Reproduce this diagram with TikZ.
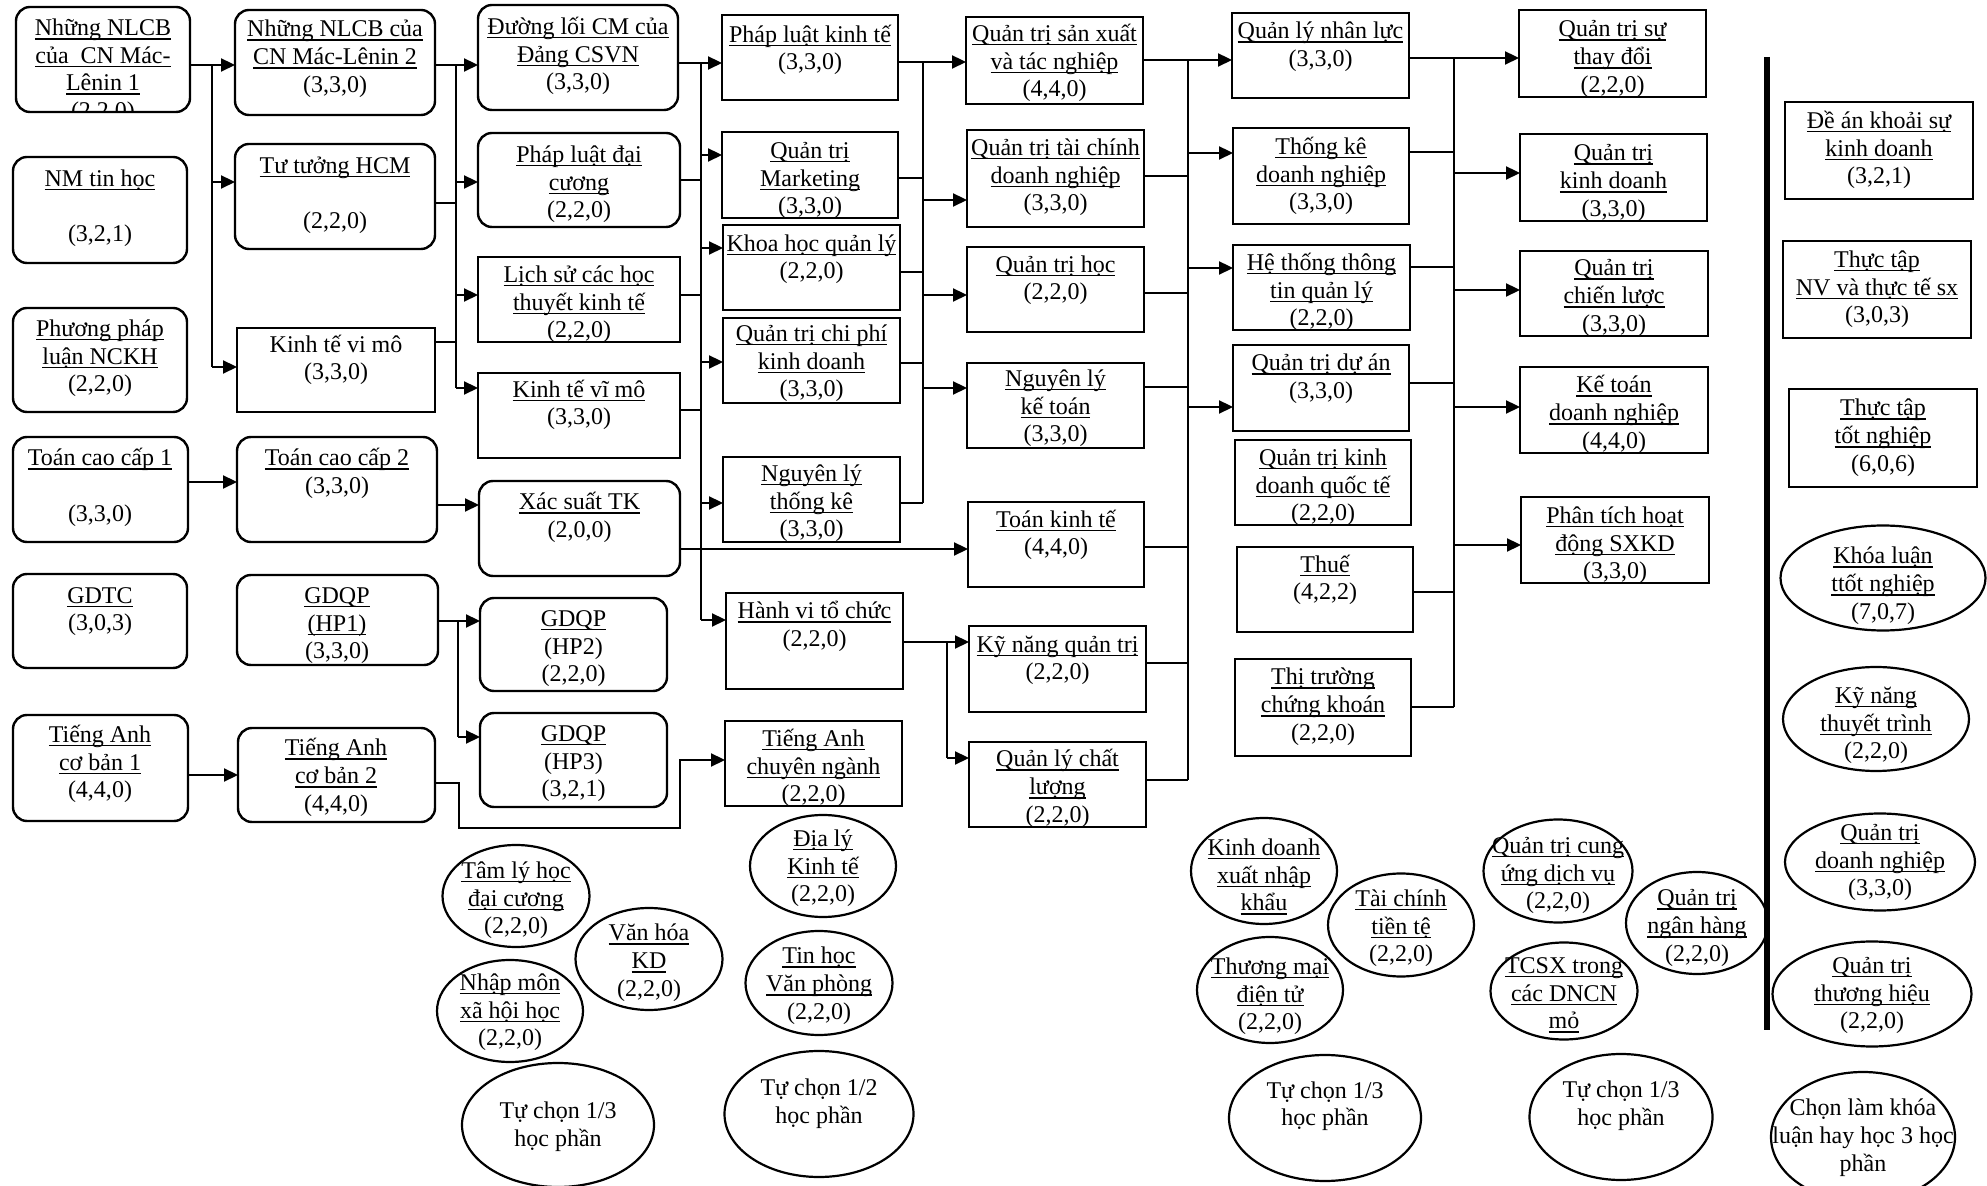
\documentclass[tikz,border=0pt]{standalone}
\usepackage{fontspec}
\setmainfont{Liberation Serif}
\usetikzlibrary{arrows.meta,fit,shapes.geometric}
\newcommand\fs{\fontsize{12pt}{13.8pt}\selectfont}
\newcommand\uu[1]{\strut\setbox0\hbox{#1}\rlap{\rule[-2pt]{\wd0}{0.75pt}}\box0}
\newcommand\pp[1]{\strut #1}
\tikzset{
  sq/.style={draw, line width=1.2pt, inner sep=0pt, outer sep=0pt},
  rd/.style={sq, rounded corners=7pt},
  el/.style={draw, ellipse, line width=1.1pt, inner sep=0pt, outer sep=0pt},
  tx/.style={align=center, inner sep=0pt, font=\fs, yshift=-1.5pt},
  ln/.style={line width=1.1pt},
  ar/.style={ln, -{Triangle[length=7pt,width=6.5pt]}},
}
\begin{document}
\begin{tikzpicture}[x=0.5pt,y=-0.5pt]
\useasboundingbox (0,0) rectangle (1987,1186);
\fill[white] (0,0) rectangle (1987,1186);

% ---------- column 1 ----------
\node[rd, fit={(16,7) (190,112)}] (n1) {};
\begin{scope}
\clip[rounded corners=7pt] (16,7) rectangle (190,112);
\node[tx] (n1t) at (103,68.5) {\uu{Những NLCB}\\\uu{của\ \ CN Mác-}\\\uu{Lênin 1}\\\pp{(2,2,0)}};
\end{scope}
\node[rd, fit={(13,157) (187,263)}] (nmth) {};
\node[tx] (nmtht) at (100,205.5) {\uu{NM tin học}\\\strut\\\pp{(3,2,1)}};
\node[rd, fit={(13,308) (187,412)}] (ppl) {};
\node[tx] (pplt) at (100,355.5) {\uu{Phương pháp}\\\uu{luận NCKH}\\\pp{(2,2,0)}};
\node[rd, fit={(13,437) (188,542)}] (tcc1) {};
\node[tx] (tcc1t) at (100,485) {\uu{Toán cao cấp 1}\\\strut\\\pp{(3,3,0)}};
\node[rd, fit={(13,574) (187,668)}] (gdtc) {};
\node[tx] (gdtct) at (100,608.5) {\uu{GDTC}\\\pp{(3,0,3)}};
\node[rd, fit={(13,715) (188,821)}] (tacb1) {};
\node[tx] (tacb1t) at (100,761.5) {\uu{Tiếng Anh}\\\uu{cơ bản 1}\\\pp{(4,4,0)}};

% ---------- column 2 ----------
\node[rd, fit={(235,10) (435,115)}] (n2) {};
\node[tx] (n2t) at (335,56) {\uu{Những NLCB của}\\\uu{CN Mác-Lênin 2}\\\pp{(3,3,0)}};
\node[rd, fit={(235,144) (435,249)}] (tthcm) {};
\node[tx] (tthcmt) at (335,192.5) {\uu{Tư tưởng HCM}\\\strut\\\pp{(2,2,0)}};
\node[sq, fit={(237,328) (435,412)}] (ktvimo) {};
\node[tx] (ktvimot) at (336,357.5) {\pp{Kinh tế vi mô}\\\pp{(3,3,0)}};
\node[rd, fit={(237,437) (437,542)}] (tcc2) {};
\node[tx] (tcc2t) at (337,471) {\uu{Toán cao cấp 2}\\\pp{(3,3,0)}};
\node[rd, fit={(237,575) (438,665)}] (hp1) {};
\node[tx] (hp1t) at (337,622.5) {\uu{GDQP}\\\uu{(HP1)}\\\pp{(3,3,0)}};
\node[rd, fit={(238,728) (435,822)}] (tacb2) {};
\node[tx] (tacb2t) at (336,775) {\uu{Tiếng Anh}\\\uu{cơ bản 2}\\\pp{(4,4,0)}};

% ---------- column 3 ----------
\node[rd, fit={(478,5) (678,110)}] (dl) {};
\node[tx] (dlt) at (578,53.5) {\uu{Đường lối CM của}\\\uu{Đảng CSVN}\\\pp{(3,3,0)}};
\node[rd, fit={(478,133) (680,227)}] (pldc) {};
\node[tx] (pldct) at (579,181.5) {\uu{Pháp luật đại}\\\uu{cương}\\\pp{(2,2,0)}};
\node[sq, fit={(478,257) (680,342)}] (ls) {};
\node[tx] (lst) at (579,301.5) {\uu{Lịch sử các học}\\\uu{thuyết kinh tế}\\\pp{(2,2,0)}};
\node[sq, fit={(478,373) (680,458)}] (ktvm) {};
\node[tx] (ktvmt) at (579,402.5) {\uu{Kinh tế vĩ mô}\\\pp{(3,3,0)}};
\node[rd, fit={(479,481) (680,576)}] (xstk) {};
\node[tx] (xstkt) at (579.5,515) {\uu{Xác suất TK}\\\pp{(2,0,0)}};
\node[rd, fit={(480,598) (667,691)}] (hp2) {};
\node[tx] (hp2t) at (573.5,645.5) {\uu{GDQP}\\\pp{(HP2)}\\\pp{(2,2,0)}};
\node[rd, fit={(480,713) (667,807)}] (hp3) {};
\node[tx] (hp3t) at (573.5,760.5) {\uu{GDQP}\\\pp{(HP3)}\\\pp{(3,2,1)}};

% ---------- column 4 ----------
\node[sq, fit={(722,15) (898,100)}] (plkt) {};
\node[tx] (plktt) at (810,47.5) {\uu{Pháp luật kinh tế}\\\pp{(3,3,0)}};
\node[sq, fit={(722,132) (898,218)}] (qtmk) {};
\node[tx] (qtmkt) at (810,177.5) {\uu{Quản trị}\\\uu{Marketing}\\\pp{(3,3,0)}};
\node[sq, fit={(723,225) (900,310)}] (khql) {};
\node[tx] (khqlt) at (811.5,256.5) {\uu{Khoa học quản lý}\\\pp{(2,2,0)}};
\node[sq, fit={(723,318) (900,403)}] (qtcp) {};
\node[tx] (qtcpt) at (811.5,360.5) {\uu{Quản trị chi phí}\\\uu{kinh doanh}\\\pp{(3,3,0)}};
\node[sq, fit={(723,457) (900,542)}] (nltk) {};
\node[tx] (nltkt) at (811.5,500.5) {\uu{Nguyên lý}\\\uu{thống kê}\\\pp{(3,3,0)}};
\node[sq, fit={(726,593) (903,689)}] (hvtc) {};
\node[tx] (hvtct) at (814.5,624) {\uu{Hành vi tổ chức}\\\pp{(2,2,0)}};
\node[sq, fit={(725,721) (902,806)}] (tacn) {};
\node[tx] (tacnt) at (813.5,765.5) {\uu{Tiếng Anh}\\\uu{chuyên ngành}\\\pp{(2,2,0)}};

% ---------- column 5 ----------
\node[sq, fit={(966,17) (1143,104)}] (qtsx) {};
\node[tx] (qtsxt) at (1054.5,60.5) {\uu{Quản trị sản xuất}\\\uu{và tác nghiệp}\\\pp{(4,4,0)}};
\node[sq, fit={(967,130) (1144,227)}] (qttc) {};
\node[tx] (qttct) at (1055.5,174.5) {\uu{Quản trị tài chính}\\\uu{doanh nghiệp}\\\pp{(3,3,0)}};
\node[sq, fit={(967,247) (1144,332)}] (qth) {};
\node[tx] (qtht) at (1055.5,277.5) {\uu{Quản trị học}\\\pp{(2,2,0)}};
\node[sq, fit={(967,363) (1144,448)}] (nlkt) {};
\node[tx] (nlktt) at (1055.5,405.5) {\uu{Nguyên lý}\\\uu{kế toán}\\\pp{(3,3,0)}};
\node[sq, fit={(968,502) (1144,587)}] (tkt) {};
\node[tx] (tktt) at (1056,532.5) {\uu{Toán kinh tế}\\\pp{(4,4,0)}};
\node[sq, fit={(969,626) (1146,712)}] (knqt) {};
\node[tx] (knqtt) at (1057.5,657.5) {\uu{Kỹ năng quản trị}\\\pp{(2,2,0)}};
\node[sq, fit={(969,742) (1146,827)}] (qlcl) {};
\node[tx] (qlclt) at (1057.5,786) {\uu{Quản lý chất}\\\uu{lượng}\\\pp{(2,2,0)}};

% ---------- column 6 ----------
\node[sq, fit={(1232,13) (1409,98)}] (qlnl) {};
\node[tx] (qlnlt) at (1320.5,44) {\uu{Quản lý nhân lực}\\\pp{(3,3,0)}};
\node[sq, fit={(1233,128) (1409,224)}] (tkdn) {};
\node[tx] (tkdnt) at (1321,173.5) {\uu{Thống kê}\\\uu{doanh nghiệp}\\\pp{(3,3,0)}};
\node[sq, fit={(1233,245) (1410,330)}] (httt) {};
\node[tx] (htttt) at (1321.5,289.5) {\uu{Hệ thống thông}\\\uu{tin quản lý}\\\pp{(2,2,0)}};
\node[sq, fit={(1233,345) (1409,431)}] (qtda) {};
\node[tx] (qtdat) at (1321,376) {\uu{Quản trị dự án}\\\pp{(3,3,0)}};
\node[sq, fit={(1235,440) (1411,525)}] (qtkdqt) {};
\node[tx] (qtkdqtt) at (1323,484.5) {\uu{Quản trị kinh}\\\uu{doanh quốc tế}\\\pp{(2,2,0)}};
\node[sq, fit={(1237,547) (1413,632)}] (thue) {};
\node[tx] (thuet) at (1325,577.5) {\uu{Thuế}\\\pp{(4,2,2)}};
\node[sq, fit={(1235,659) (1411,756)}] (ttck) {};
\node[tx] (ttckt) at (1323,704) {\uu{Thị trường}\\\uu{chứng khoán}\\\pp{(2,2,0)}};

% ---------- column 7 ----------
\node[sq, fit={(1519,10) (1706,97)}] (qtstd) {};
\node[tx] (qtstdt) at (1612.5,56) {\uu{Quản trị sự}\\\uu{thay đổi}\\\pp{(2,2,0)}};
\node[sq, fit={(1520,134) (1707,221)}] (qtkd) {};
\node[tx] (qtkdt) at (1613.5,180) {\uu{Quản trị}\\\uu{kinh doanh}\\\pp{(3,3,0)}};
\node[sq, fit={(1520,251) (1708,336)}] (qtcl) {};
\node[tx] (qtclt) at (1614,295) {\uu{Quản trị}\\\uu{chiến lược}\\\pp{(3,3,0)}};
\node[sq, fit={(1520,367) (1708,453)}] (ktdn) {};
\node[tx] (ktdnt) at (1614,412) {\uu{Kế toán}\\\uu{doanh nghiệp}\\\pp{(4,4,0)}};
\node[sq, fit={(1521,497) (1709,583)}] (pthd) {};
\node[tx] (pthdt) at (1615,542.5) {\uu{Phân tích hoạt}\\\uu{động SXKD}\\\pp{(3,3,0)}};

% ---------- right column ----------
\draw[line width=3pt] (1767,57) -- (1767,1030);
\node[sq, fit={(1785,102) (1973,199)}] (dean) {};
\node[tx] (deant) at (1879,147.5) {\uu{Đề án khoải sự}\\\uu{kinh doanh}\\\pp{(3,2,1)}};
\node[sq, fit={(1783,241) (1971,338)}] (tttnv) {};
\node[tx] (tttnvt) at (1877,286.5) {\uu{Thực tập}\\\uu{NV và thực tế sx}\\\pp{(3,0,3)}};
\node[sq, fit={(1789,389) (1977,487)}] (tttn) {};
\node[tx] (tttnt) at (1883,435) {\uu{Thực tập}\\\uu{tốt nghiệp}\\\pp{(6,0,6)}};
\node[el, minimum width=102.5pt, minimum height=52.5pt] (kl) at (1883,578) {};
\node[tx] (klt) at (1883,583) {\uu{Khóa luận}\\\uu{ttốt nghiệp}\\\pp{(7,0,7)}};
\node[el, minimum width=93pt, minimum height=52pt] (kntt) at (1876,719) {};
\node[tx] (knttt) at (1876,722.5) {\uu{Kỹ năng}\\\uu{thuyết trình}\\\pp{(2,2,0)}};
\node[el, minimum width=95pt, minimum height=48.5pt] (qtdn) at (1880,862) {};
\node[tx] (qtdnt) at (1880,859.5) {\uu{Quản trị}\\\uu{doanh nghiệp}\\\pp{(3,3,0)}};
\node[el, minimum width=99.5pt, minimum height=52.5pt] (qtth) at (1872,994) {};
\node[tx] (qttht) at (1872,992.5) {\uu{Quản trị}\\\uu{thương hiệu}\\\pp{(2,2,0)}};
\node[el, minimum width=92pt, minimum height=65pt] (chon) at (1863,1137) {};
\node[tx] (chont) at (1863,1135) {\pp{Chọn làm khóa}\\\pp{luận hay học 3 học}\\\pp{phần}};

% ---------- elective ellipses ----------
\node[el, minimum width=73.5pt, minimum height=51pt] (tlh) at (516,896) {};
\node[tx] (tlht) at (516,897.5) {\uu{Tâm lý học}\\\uu{đại cương}\\\pp{(2,2,0)}};
\node[el, minimum width=73.5pt, minimum height=51pt] (vhkd) at (649,959) {};
\node[tx] (vhkdt) at (649,960) {\uu{Văn hóa}\\\uu{KD}\\\pp{(2,2,0)}};
\node[el, minimum width=73pt, minimum height=51pt] (nmxhh) at (510,1011) {};
\node[tx] (nmxhht) at (510,1009.5) {\uu{Nhập môn}\\\uu{xã hội học}\\\pp{(2,2,0)}};
\node[el, minimum width=96pt, minimum height=62pt] (tca) at (558,1125) {};
\node[tx] (tcat) at (558,1124) {\pp{Tự chọn 1/3}\\\pp{học phần}};
\node[el, minimum width=73pt, minimum height=51pt] (dlkt) at (823,866) {};
\node[tx] (dlktt) at (823,865.5) {\uu{Địa lý}\\\uu{Kinh tế}\\\pp{(2,2,0)}};
\node[el, minimum width=73.5pt, minimum height=52pt] (thvp) at (819,983) {};
\node[tx] (thvpt) at (819,983) {\uu{Tin học}\\\uu{Văn phòng}\\\pp{(2,2,0)}};
\node[el, minimum width=94.5pt, minimum height=63pt] (tcb) at (819,1114) {};
\node[tx] (tcbt) at (819,1101) {\pp{Tự chọn 1/2}\\\pp{học phần}};
\node[el, minimum width=73pt, minimum height=53pt] (kdxnk) at (1264,871) {};
\node[tx] (kdxnkt) at (1264,874.5) {\uu{Kinh doanh}\\\uu{xuất nhập}\\\uu{khẩu}};
\node[el, minimum width=73pt, minimum height=51.5pt] (tctt) at (1401,925) {};
\node[tx] (tcttt) at (1401,925.5) {\uu{Tài chính}\\\uu{tiền tệ}\\\pp{(2,2,0)}};
\node[el, minimum width=73pt, minimum height=53pt] (tmdt) at (1270,990) {};
\node[tx] (tmdtt) at (1270,993.5) {\uu{Thương mại}\\\uu{điện tử}\\\pp{(2,2,0)}};
\node[el, minimum width=96pt, minimum height=63pt] (tcc) at (1325,1118) {};
\node[tx] (tcct) at (1325,1103.5) {\pp{Tự chọn 1/3}\\\pp{học phần}};
\node[el, minimum width=74.5pt, minimum height=51.5pt] (qtcu) at (1558,871) {};
\node[tx] (qtcut) at (1558,872.5) {\uu{Quản trị cung}\\\uu{ứng dịch vụ}\\\pp{(2,2,0)}};
\node[el, minimum width=73.5pt, minimum height=48.5pt] (tcsx) at (1564,991) {};
\node[tx] (tcsxt) at (1564,992.5) {\uu{TCSX trong}\\\uu{các DNCN}\\\uu{mỏ}};
\node[el, minimum width=71pt, minimum height=51pt] (qtnh) at (1697,923) {};
\node[tx] (qtnht) at (1697,925) {\uu{Quản trị}\\\uu{ngân hàng}\\\pp{(2,2,0)}};
\node[el, minimum width=91.5pt, minimum height=63pt] (tcd) at (1621,1117) {};
\node[tx] (tcdt) at (1621,1103) {\pp{Tự chọn 1/3}\\\pp{học phần}};

% ---------- bus coordinates ----------
\coordinate (b1) at (212,0);
\coordinate (b2) at (456,0);
\coordinate (b3) at (701,0);
\coordinate (b4) at (923,0);
\coordinate (b5) at (1188,0);
\coordinate (b6) at (1454,0);
\coordinate (b7) at (947,0);
\coordinate (b8) at (458,0);
\coordinate (c1) at (459,828);
\coordinate (c2) at (680,760);

% col1 -> col2
\draw[ln] (n1.east |- 0,65) -- (b1 |- 0,65) -- (b1 |- 0,367);
\draw[ar] (b1 |- 0,65) -- (n2.west |- 0,65);
\draw[ar] (b1 |- 0,182) -- (tthcm.west |- 0,182);
\draw[ar] (b1 |- 0,367) -- (ktvimo.west |- 0,367);

% col2 -> col3
\draw[ln] (n2.east |- 0,65) -- (b2 |- 0,65) -- (b2 |- 0,388);
\draw[ln] (tthcm.east |- 0,203) -- (b2 |- 0,203);
\draw[ln] (ktvimo.east |- 0,342) -- (b2 |- 0,342);
\draw[ar] (b2 |- 0,65) -- (dl.west |- 0,65);
\draw[ar] (b2 |- 0,182) -- (pldc.west |- 0,182);
\draw[ar] (b2 |- 0,295) -- (ls.west |- 0,295);
\draw[ar] (b2 |- 0,388) -- (ktvm.west |- 0,388);

% col3 -> col4
\draw[ln] (dl.east |- 0,63) -- (b3 |- 0,63) -- (b3 |- 0,620);
\draw[ln] (pldc.east |- 0,180) -- (b3 |- 0,180);
\draw[ln] (ls.east |- 0,295) -- (b3 |- 0,295);
\draw[ln] (ktvm.east |- 0,410) -- (b3 |- 0,410);
\draw[ar] (b3 |- 0,63) -- (plkt.west |- 0,63);
\draw[ar] (b3 |- 0,155) -- (qtmk.west |- 0,155);
\draw[ar] (b3 |- 0,248) -- (khql.west |- 0,248);
\draw[ar] (b3 |- 0,362) -- (qtcp.west |- 0,362);
\draw[ar] (b3 |- 0,503) -- (nltk.west |- 0,503);
\draw[ar] (b3 |- 0,620) -- (hvtc.west |- 0,620);

% col4 -> col5
\draw[ln] (plkt.east |- 0,62) -- (b4 |- 0,62) -- (b4 |- 0,503);
\draw[ln] (qtmk.east |- 0,178) -- (b4 |- 0,178);
\draw[ln] (khql.east |- 0,272) -- (b4 |- 0,272);
\draw[ln] (qtcp.east |- 0,363) -- (b4 |- 0,363);
\draw[ln] (nltk.east |- 0,503) -- (b4 |- 0,503);
\draw[ar] (b4 |- 0,62) -- (qtsx.west |- 0,62);
\draw[ar] (b4 |- 0,200) -- (qttc.west |- 0,200);
\draw[ar] (b4 |- 0,295) -- (qth.west |- 0,295);
\draw[ar] (b4 |- 0,388) -- (nlkt.west |- 0,388);

% col5 -> col6
\draw[ln] (qtsx.east |- 0,60) -- (b5 |- 0,60) -- (b5 |- 0,780);
\draw[ln] (qttc.east |- 0,176) -- (b5 |- 0,176);
\draw[ln] (qth.east |- 0,293) -- (b5 |- 0,293);
\draw[ln] (nlkt.east |- 0,387) -- (b5 |- 0,387);
\draw[ln] (tkt.east |- 0,547) -- (b5 |- 0,547);
\draw[ln] (knqt.east |- 0,663) -- (b5 |- 0,663);
\draw[ln] (qlcl.east |- 0,780) -- (b5 |- 0,780);
\draw[ar] (b5 |- 0,60) -- (qlnl.west |- 0,60);
\draw[ar] (b5 |- 0,153) -- (tkdn.west |- 0,153);
\draw[ar] (b5 |- 0,268) -- (httt.west |- 0,268);
\draw[ar] (b5 |- 0,407) -- (qtda.west |- 0,407);

% col6 -> col7
\draw[ln] (qlnl.east |- 0,58) -- (b6 |- 0,58) -- (b6 |- 0,707);
\draw[ln] (tkdn.east |- 0,152) -- (b6 |- 0,152);
\draw[ln] (httt.east |- 0,267) -- (b6 |- 0,267);
\draw[ln] (qtda.east |- 0,383) -- (b6 |- 0,383);
\draw[ln] (thue.east |- 0,592) -- (b6 |- 0,592);
\draw[ln] (ttck.east |- 0,707) -- (b6 |- 0,707);
\draw[ar] (b6 |- 0,58) -- (qtstd.west |- 0,58);
\draw[ar] (b6 |- 0,173) -- (qtkd.west |- 0,173);
\draw[ar] (b6 |- 0,290) -- (qtcl.west |- 0,290);
\draw[ar] (b6 |- 0,407) -- (ktdn.west |- 0,407);
\draw[ar] (b6 |- 0,545) -- (pthd.west |- 0,545);

% Hanh vi to chuc -> col5
\draw[ln] (hvtc.east |- 0,642) -- (b7 |- 0,642) -- (b7 |- 0,758);
\draw[ar] (b7 |- 0,642) -- (knqt.west |- 0,642);
\draw[ar] (b7 |- 0,758) -- (qlcl.west |- 0,758);

% single links
\draw[ar] (xstk.east |- 0,549) -- (tkt.west |- 0,549);
\draw[ar] (tcc1.east |- 0,482) -- (tcc2.west |- 0,482);
\draw[ar] (tcc2.east |- 0,505) -- (xstk.west |- 0,505);
\draw[ar] (tacb1.east |- 0,775) -- (tacb2.west |- 0,775);
\draw[ln] (hp1.east |- 0,621) -- (b8 |- 0,621) -- (b8 |- 0,737);
\draw[ar] (b8 |- 0,621) -- (hp2.west |- 0,621);
\draw[ar] (b8 |- 0,737) -- (hp3.west |- 0,737);
\draw[ar] (tacb2.east |- 0,783) -- (c1 |- 0,783) -- (c1) -- (c2 |- c1) -- (c2) -- (tacn.west |- c2);
\end{tikzpicture}
\end{document}
